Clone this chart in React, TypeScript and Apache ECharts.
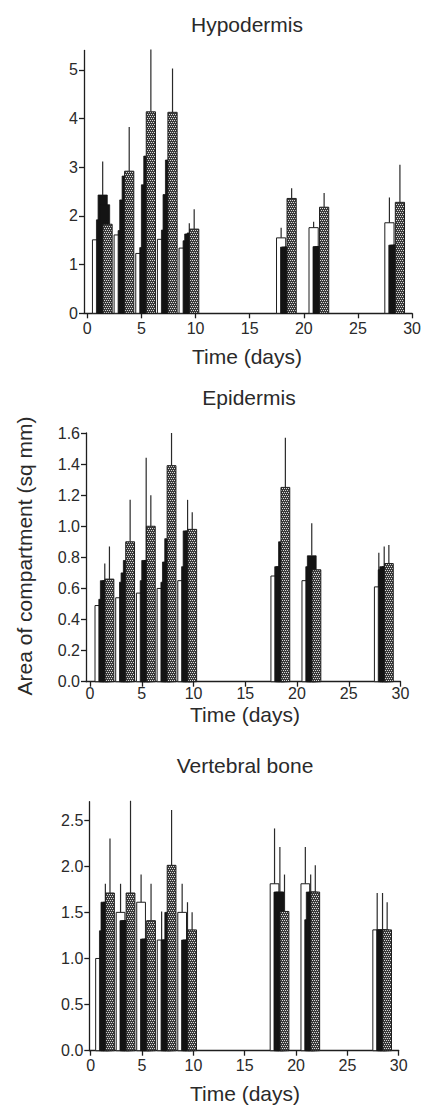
import React, { useEffect, useRef } from "react";
import * as echarts from "echarts";

// ---------- data ----------
const days = [1, 3, 5, 7, 9, 18, 21, 28];
const xTicks = [0, 5, 10, 15, 20, 25, 30];

// Hypodermis
const hypTicks = [0, 1, 2, 3, 4, 5];
const hypWhite = [1.51, 1.61, 1.23, 1.52, 1.34, 1.55, 1.76, 1.86];
const hypWhiteErr = [null, null, null, null, null, 1.76, 1.88, 2.38];
const hypB1 = [1.92, 1.7, 1.35, 1.71, 1.49, 1.36, 1.37, 1.4];
const hypB2 = [2.43, 2.33, 2.64, 2.44, 1.63, 1.36, 1.37, 1.4];
const hypB2Err = [3.12, null, null, null, 1.85, null, null, null];
const hypB3 = [2.23, 2.82, 3.23, 3.15, 1.65, 1.36, 1.37, 1.4];
const hypHat = [1.83, 2.92, 4.14, 4.13, 1.73, 2.36, 2.18, 2.28];
const hypHatErr = [null, 3.83, 5.42, 5.03, 2.14, 2.57, 2.47, 3.05];

// Epidermis
const epiTicks = [0, 0.2, 0.4, 0.6, 0.8, 1.0, 1.2, 1.4, 1.6];
const epiWhite = [0.49, 0.54, 0.57, 0.6, 0.65, 0.68, 0.65, 0.61];
const epiWhiteErr = [null, null, null, null, null, null, null, 0.83];
const epiB1 = [0.53, 0.64, 0.65, 0.64, 0.74, 0.74, 0.74, 0.72];
const epiB2 = [0.65, 0.7, 0.78, 0.77, 0.97, 0.74, 0.81, 0.74];
const epiB2Err = [0.76, null, 1.44, null, 1.17, null, 1.02, 0.87];
const epiB3 = [0.65, 0.78, 0.78, 0.92, 0.97, 0.9, 0.7, 0.74];
const epiHat = [0.66, 0.9, 1.0, 1.39, 0.98, 1.25, 0.72, 0.76];
const epiHatErr = [0.87, 1.17, 1.2, 1.6, 1.09, 1.57, null, 0.88];

// Vertebral bone
const verTicks = [0, 0.5, 1.0, 1.5, 2.0, 2.5];
const verWhite = [1.0, 1.5, 1.61, 1.2, 1.5, 1.81, 1.81, 1.31];
const verWhiteErr = [null, 1.81, 1.91, 1.51, 1.81, 2.41, 2.21, 1.71];
const verB1 = [1.3, 1.41, 1.21, 1.2, 1.2, 1.72, 1.42, 1.31];
const verB2 = [1.61, 1.41, 1.21, 1.2, 1.2, 1.72, 1.72, 1.31];
const verB2Err = [1.81, null, null, null, 1.61, 2.21, 1.91, 1.71];
const verB3 = [1.61, 1.41, 1.21, 1.5, 1.2, 1.5, 1.72, 1.31];
const verHat = [1.71, 1.71, 1.41, 2.01, 1.31, 1.51, 1.72, 1.31];
const verHatErr = [2.3, 2.71, 1.81, 2.61, 1.5, 1.91, 2.01, 1.61];

// ---------- layout / style ----------
const FONT = "'Liberation Sans', Arial, Helvetica, sans-serif";
const BAR_W = 0.85;
const OFFSETS = { white: -0.095, b1: 0.275, b2: 0.425, b3: 0.645, hat: 0.875 };

function makePattern() {
  const c = document.createElement("canvas");
  c.width = 4;
  c.height = 4;
  const ctx = c.getContext("2d")!;
  ctx.fillStyle = "#3a3a3a";
  ctx.fillRect(0, 0, 4, 4);
  ctx.fillStyle = "#dcdcdc";
  [[0, 0], [2, 0], [1, 2], [3, 2]].forEach(([x, y]) => ctx.fillRect(x, y, 1, 1));
  return { image: c, repeat: "repeat", imageWidth: 4, imageHeight: 4 } as any;
}

export default function App() {
  const ref = useRef<HTMLDivElement>(null);

  useEffect(() => {
    if (!ref.current) return;
    const chart = echarts.init(ref.current, undefined, { renderer: "svg" });
    const pattern = makePattern();

    const panels = [
      {
        grid: { left: 84, top: 50.5, width: 330, height: 262.8 },
        xMin: -0.3,
        yMax: 5.4,
        ticks: hypTicks,
        xLabelMargin: 7,
        fmt: (v: number) => String(v),
        sets: [
          ["white", hypWhite, hypWhiteErr],
          ["b1", hypB1, null],
          ["b2", hypB2, hypB2Err],
          ["b3", hypB3, null],
          ["hat", hypHat, hypHatErr],
        ],
      },
      {
        grid: { left: 86, top: 433, width: 314.5, height: 248.7 },
        xMin: -0.39,
        yMax: 1.6,
        ticks: epiTicks,
        xLabelMargin: 4,
        fmt: (v: number) => v.toFixed(1),
        sets: [
          ["white", epiWhite, epiWhiteErr],
          ["b1", epiB1, null],
          ["b2", epiB2, epiB2Err],
          ["b3", epiB3, null],
          ["hat", epiHat, epiHatErr],
        ],
      },
      {
        grid: { left: 89.3, top: 801.7, width: 309.4, height: 249 },
        xMin: -0.14,
        yMax: 2.7,
        ticks: verTicks,
        xLabelMargin: 7,
        fmt: (v: number) => v.toFixed(1),
        sets: [
          ["white", verWhite, verWhiteErr],
          ["b1", verB1, null],
          ["b2", verB2, verB2Err],
          ["b3", verB3, null],
          ["hat", verHat, verHatErr],
        ],
      },
    ];

    const axisColor = "#1e1e1e";
    const grids: any[] = [];
    const xAxes: any[] = [];
    const yAxes: any[] = [];
    const series: any[] = [];

    panels.forEach((p, gi) => {
      grids.push({ ...p.grid, containLabel: false });
      xAxes.push({
        type: "value",
        gridIndex: gi,
        min: p.xMin,
        max: 30,
        axisLine: { show: true, onZero: false, lineStyle: { color: axisColor, width: 1.3 } },
        axisTick: { show: true, length: 5, customValues: xTicks, lineStyle: { color: axisColor, width: 1.3 } },
        axisLabel: { customValues: xTicks, fontSize: 16, color: "#2a2a2a", margin: p.xLabelMargin, fontFamily: FONT },
        splitLine: { show: false },
      });
      yAxes.push({
        type: "value",
        gridIndex: gi,
        min: 0,
        max: p.yMax,
        axisLine: { show: true, onZero: false, lineStyle: { color: axisColor, width: 1.3 } },
        axisTick: { show: true, length: 5, customValues: p.ticks, lineStyle: { color: axisColor, width: 1.3 } },
        axisLabel: { customValues: p.ticks, formatter: p.fmt, fontSize: 16, color: "#2a2a2a", margin: 6, fontFamily: FONT },
        splitLine: { show: false },
      });

      p.sets.forEach((s: any) => {
        const kind: string = s[0];
        const vals: number[] = s[1];
        const errs: (number | null)[] | null = s[2];
        const off = (OFFSETS as any)[kind];
        const style =
          kind === "white"
            ? { fill: "#ffffff", stroke: "#1e1e1e", lineWidth: 1 }
            : kind === "hat"
            ? { fill: pattern, stroke: "#1e1e1e", lineWidth: 1 }
            : { fill: "#141414", stroke: "#141414", lineWidth: 0.8 };
        series.push({
          type: "custom",
          name: kind + gi,
          xAxisIndex: gi,
          yAxisIndex: gi,
          encode: { x: 0, y: 1 },
          data: days.map((d, i) => [d, vals[i], errs && errs[i] != null ? errs[i] : -1]),
          renderItem: (params: any, api: any) => {
            const d = api.value(0) as number;
            const v = api.value(1) as number;
            const e = api.value(2) as number;
            const tl = api.coord([d + off - BAR_W / 2, v]);
            const br = api.coord([d + off + BAR_W / 2, 0]);
            const children: any[] = [
              {
                type: "rect",
                shape: { x: tl[0], y: tl[1], width: br[0] - tl[0], height: br[1] - tl[1] },
                style,
              },
            ];
            if (e > v) {
              const top = api.coord([d + off, e]);
              children.push({
                type: "line",
                shape: { x1: top[0], y1: tl[1], x2: top[0], y2: top[1] },
                style: { stroke: "#2a2a2a", lineWidth: 1.2 },
              });
            }
            return { type: "group", children };
          },
        });
      });
    });

    const txt = (text: string, x: number, y: number, size: number, extra: any = {}) => ({
      type: "text",
      x,
      y,
      style: {
        text,
        fill: "#2a2a2a",
        font: `${size}px ${FONT}`,
        textAlign: "center",
        textVerticalAlign: "middle",
        align: "center",
        verticalAlign: "middle",
      },
      ...extra,
    });

    chart.setOption({
      animation: false,
      backgroundColor: "#ffffff",
      grid: grids,
      xAxis: xAxes,
      yAxis: yAxes,
      series,
      graphic: [
        txt("Hypodermis", 247, 24, 21),
        txt("Time (days)", 247, 356, 21),
        txt("Epidermis", 249, 397, 21),
        txt("Time (days)", 245, 714, 21),
        txt("Vertebral bone", 245, 765, 21),
        txt("Time (days)", 245, 1093, 21),
        txt("Area of compartment (sq mm)", 24, 556, 21, { rotation: Math.PI / 2 }),
      ],
    });

    return () => chart.dispose();
  }, []);

  return (
    <div
      ref={ref}
      style={{ position: "absolute", left: 0, top: 0, width: 424, height: 1107, background: "#fff" }}
    />
  );
}
